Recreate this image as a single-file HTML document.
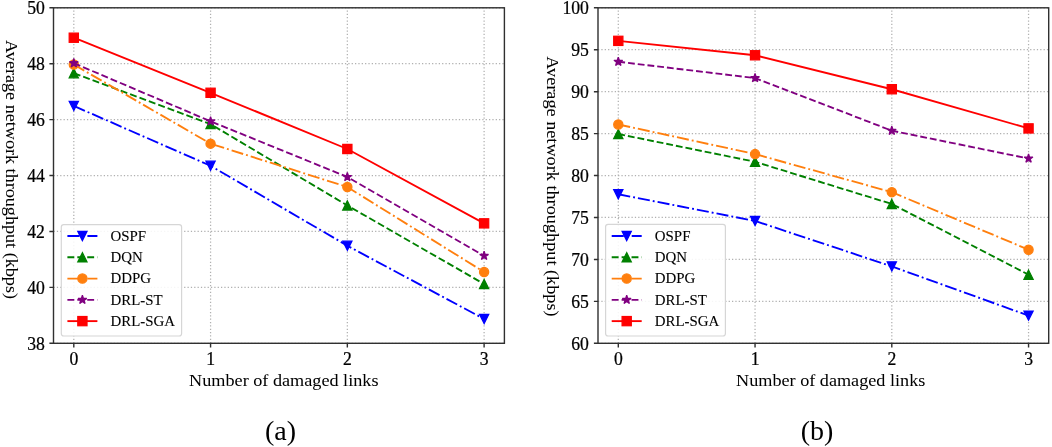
<!DOCTYPE html><html><head><meta charset="utf-8"><style>html,body{margin:0;padding:0;background:#fff;}svg{display:block;will-change:transform;}text{font-family:"Liberation Serif", serif;fill:#000;stroke:#000;stroke-width:0.25px;}</style></head><body>
<svg width="1052" height="447" viewBox="0 0 1052 447">
<rect width="1052" height="447" fill="#fff"/>
<g>
<path d="M73.8,343.3V7.8M210.57,343.3V7.8M347.34,343.3V7.8M484.11,343.3V7.8M53.5,343.3H504.4M53.5,287.38H504.4M53.5,231.47H504.4M53.5,175.55H504.4M53.5,119.63H504.4M53.5,63.72H504.4M53.5,7.8H504.4" stroke="#b0b0b0" stroke-width="1.25" stroke-dasharray="1.25 2.1" fill="none"/>
<polyline points="73.8,105.93 210.57,165.76 347.34,245.73 484.11,318.98" fill="none" stroke="#0000ff" stroke-width="1.87" stroke-dasharray="12.08 3.02 1.89 3.02"/>
<path d="M73.8,110.53L69.2,101.33L78.4,101.33Z" fill="#0000ff" stroke="#0000ff" stroke-width="1.25" stroke-linejoin="miter"/>
<path d="M210.57,170.36L205.97,161.16L215.17,161.16Z" fill="#0000ff" stroke="#0000ff" stroke-width="1.25" stroke-linejoin="miter"/>
<path d="M347.34,250.33L342.74,241.13L351.94,241.13Z" fill="#0000ff" stroke="#0000ff" stroke-width="1.25" stroke-linejoin="miter"/>
<path d="M484.11,323.58L479.51,314.38L488.71,314.38Z" fill="#0000ff" stroke="#0000ff" stroke-width="1.25" stroke-linejoin="miter"/>
<polyline points="73.8,73.22 210.57,124.11 347.34,205.47 484.11,284.03" fill="none" stroke="#008000" stroke-width="1.87" stroke-dasharray="6.99 3.02"/>
<path d="M73.8,68.62L69.2,77.82L78.4,77.82Z" fill="#008000" stroke="#008000" stroke-width="1.25" stroke-linejoin="miter"/>
<path d="M210.57,119.51L205.97,128.71L215.17,128.71Z" fill="#008000" stroke="#008000" stroke-width="1.25" stroke-linejoin="miter"/>
<path d="M347.34,200.87L342.74,210.07L351.94,210.07Z" fill="#008000" stroke="#008000" stroke-width="1.25" stroke-linejoin="miter"/>
<path d="M484.11,279.43L479.51,288.63L488.71,288.63Z" fill="#008000" stroke="#008000" stroke-width="1.25" stroke-linejoin="miter"/>
<polyline points="73.8,64.56 210.57,143.68 347.34,187.01 484.11,272.01" fill="none" stroke="#ff7f0e" stroke-width="1.87" stroke-dasharray="12.08 3.02 1.89 3.02"/>
<circle cx="73.8" cy="64.56" r="4.6" fill="#ff7f0e" stroke="#ff7f0e" stroke-width="1.25"/>
<circle cx="210.57" cy="143.68" r="4.6" fill="#ff7f0e" stroke="#ff7f0e" stroke-width="1.25"/>
<circle cx="347.34" cy="187.01" r="4.6" fill="#ff7f0e" stroke="#ff7f0e" stroke-width="1.25"/>
<circle cx="484.11" cy="272.01" r="4.6" fill="#ff7f0e" stroke="#ff7f0e" stroke-width="1.25"/>
<polyline points="73.8,63.16 210.57,121.31 347.34,176.95 484.11,255.79" fill="none" stroke="#800080" stroke-width="1.87" stroke-dasharray="6.99 3.02"/>
<polygon points="73.8,58.56 72.77,61.74 69.43,61.74 72.13,63.7 71.1,66.88 73.8,64.91 76.5,66.88 75.47,63.7 78.17,61.74 74.83,61.74" fill="#800080" stroke="#800080" stroke-width="1.25" stroke-linejoin="bevel"/>
<polygon points="210.57,116.71 209.54,119.89 206.2,119.89 208.9,121.85 207.87,125.03 210.57,123.07 213.27,125.03 212.24,121.85 214.94,119.89 211.6,119.89" fill="#800080" stroke="#800080" stroke-width="1.25" stroke-linejoin="bevel"/>
<polygon points="347.34,172.35 346.31,175.53 342.97,175.53 345.67,177.49 344.64,180.67 347.34,178.7 350.04,180.67 349.01,177.49 351.71,175.53 348.37,175.53" fill="#800080" stroke="#800080" stroke-width="1.25" stroke-linejoin="bevel"/>
<polygon points="484.11,251.19 483.08,254.37 479.74,254.37 482.44,256.33 481.41,259.51 484.11,257.55 486.81,259.51 485.78,256.33 488.48,254.37 485.14,254.37" fill="#800080" stroke="#800080" stroke-width="1.25" stroke-linejoin="bevel"/>
<polyline points="73.8,37.72 210.57,92.79 347.34,148.99 484.11,223.36" fill="none" stroke="#ff0000" stroke-width="1.87"/>
<rect x="69.2" y="33.12" width="9.2" height="9.2" fill="#ff0000" stroke="#ff0000" stroke-width="1.25" stroke-linejoin="miter"/>
<rect x="205.97" y="88.19" width="9.2" height="9.2" fill="#ff0000" stroke="#ff0000" stroke-width="1.25" stroke-linejoin="miter"/>
<rect x="342.74" y="144.39" width="9.2" height="9.2" fill="#ff0000" stroke="#ff0000" stroke-width="1.25" stroke-linejoin="miter"/>
<rect x="479.51" y="218.76" width="9.2" height="9.2" fill="#ff0000" stroke="#ff0000" stroke-width="1.25" stroke-linejoin="miter"/>
<rect x="53.5" y="7.8" width="450.9" height="335.5" fill="none" stroke="#303030" stroke-width="1.4"/>
<path d="M73.8,343.3v4.1M210.57,343.3v4.1M347.34,343.3v4.1M484.11,343.3v4.1M53.5,343.3h-4.1M53.5,287.38h-4.1M53.5,231.47h-4.1M53.5,175.55h-4.1M53.5,119.63h-4.1M53.5,63.72h-4.1M53.5,7.8h-4.1" stroke="#303030" stroke-width="1.4" fill="none"/>
<text transform="translate(73.8,364.5) scale(0.93,1)" font-size="19" text-anchor="middle">0</text>
<text transform="translate(210.57,364.5) scale(0.93,1)" font-size="19" text-anchor="middle">1</text>
<text transform="translate(347.34,364.5) scale(0.93,1)" font-size="19" text-anchor="middle">2</text>
<text transform="translate(484.11,364.5) scale(0.93,1)" font-size="19" text-anchor="middle">3</text>
<text transform="translate(44.8,349.9) scale(0.93,1)" font-size="19" text-anchor="end">38</text>
<text transform="translate(44.8,293.98) scale(0.93,1)" font-size="19" text-anchor="end">40</text>
<text transform="translate(44.8,238.07) scale(0.93,1)" font-size="19" text-anchor="end">42</text>
<text transform="translate(44.8,182.15) scale(0.93,1)" font-size="19" text-anchor="end">44</text>
<text transform="translate(44.8,126.23) scale(0.93,1)" font-size="19" text-anchor="end">46</text>
<text transform="translate(44.8,70.32) scale(0.93,1)" font-size="19" text-anchor="end">48</text>
<text transform="translate(44.8,14.4) scale(0.93,1)" font-size="19" text-anchor="end">50</text>
<text x="189.1" y="386.2" font-size="17" textLength="189.4" lengthAdjust="spacingAndGlyphs" style="stroke-width:0.02px">Number of damaged links</text>
<text transform="translate(5.6,40.1) rotate(90)" x="0" y="0" font-size="16.5" textLength="258.9" lengthAdjust="spacingAndGlyphs" style="stroke-width:0.05px">Average network throughput (kbps)</text>
<text x="280.6" y="440" font-size="28" text-anchor="middle" style="stroke-width:0px;stroke:none">(a)</text>
<rect x="61.3" y="224.6" width="120.3" height="111.4" rx="2.5" fill="#fff" fill-opacity="0.88" stroke="#d6d6d6" stroke-width="1.2"/>
<path d="M67.4,236H97.4" stroke="#0000ff" stroke-width="1.87" stroke-dasharray="12.08 3.02 1.89 3.02" fill="none"/>
<path d="M82.4,240.6L77.8,231.4L87,231.4Z" fill="#0000ff" stroke="#0000ff" stroke-width="1.25" stroke-linejoin="miter"/>
<text transform="translate(110.5,240.9) scale(0.975,1)" font-size="15.3" style="stroke-width:0.1px">OSPF</text>
<path d="M67.4,257.28H97.4" stroke="#008000" stroke-width="1.87" stroke-dasharray="6.92 2.99" fill="none"/>
<path d="M82.4,252.68L77.8,261.88L87,261.88Z" fill="#008000" stroke="#008000" stroke-width="1.25" stroke-linejoin="miter"/>
<text transform="translate(110.5,262.18) scale(0.975,1)" font-size="15.3" style="stroke-width:0.1px">DQN</text>
<path d="M67.4,278.56H97.4" stroke="#ff7f0e" stroke-width="1.87" stroke-dasharray="12.08 3.02 1.89 3.02" fill="none"/>
<circle cx="82.4" cy="278.56" r="4.6" fill="#ff7f0e" stroke="#ff7f0e" stroke-width="1.25"/>
<text transform="translate(110.5,283.46) scale(0.975,1)" font-size="15.3" style="stroke-width:0.1px">DDPG</text>
<path d="M67.4,299.84H97.4" stroke="#800080" stroke-width="1.87" stroke-dasharray="6.92 2.99" fill="none"/>
<polygon points="82.4,295.24 81.37,298.42 78.03,298.42 80.73,300.38 79.7,303.56 82.4,301.6 85.1,303.56 84.07,300.38 86.77,298.42 83.43,298.42" fill="#800080" stroke="#800080" stroke-width="1.25" stroke-linejoin="bevel"/>
<text transform="translate(110.5,304.74) scale(0.975,1)" font-size="15.3" style="stroke-width:0.1px">DRL-ST</text>
<path d="M67.4,321.12H97.4" stroke="#ff0000" stroke-width="1.87" fill="none"/>
<rect x="77.8" y="316.52" width="9.2" height="9.2" fill="#ff0000" stroke="#ff0000" stroke-width="1.25" stroke-linejoin="miter"/>
<text transform="translate(110.5,326.02) scale(0.975,1)" font-size="15.3" style="stroke-width:0.1px">DRL-SGA</text>
<path d="M618.3,343.3V7.8M755.05,343.3V7.8M891.8,343.3V7.8M1028.55,343.3V7.8M598,343.3H1048.7M598,301.36H1048.7M598,259.43H1048.7M598,217.49H1048.7M598,175.55H1048.7M598,133.61H1048.7M598,91.68H1048.7M598,49.74H1048.7M598,7.8H1048.7" stroke="#b0b0b0" stroke-width="1.25" stroke-dasharray="1.25 2.1" fill="none"/>
<polyline points="618.3,194.25 755.05,220.93 891.8,266.39 1028.55,315.62" fill="none" stroke="#0000ff" stroke-width="1.87" stroke-dasharray="12.08 3.02 1.89 3.02"/>
<path d="M618.3,198.85L613.7,189.65L622.9,189.65Z" fill="#0000ff" stroke="#0000ff" stroke-width="1.25" stroke-linejoin="miter"/>
<path d="M755.05,225.53L750.45,216.33L759.65,216.33Z" fill="#0000ff" stroke="#0000ff" stroke-width="1.25" stroke-linejoin="miter"/>
<path d="M891.8,270.99L887.2,261.79L896.4,261.79Z" fill="#0000ff" stroke="#0000ff" stroke-width="1.25" stroke-linejoin="miter"/>
<path d="M1028.55,320.22L1023.95,311.02L1033.15,311.02Z" fill="#0000ff" stroke="#0000ff" stroke-width="1.25" stroke-linejoin="miter"/>
<polyline points="618.3,134.03 755.05,161.79 891.8,203.98 1028.55,274.69" fill="none" stroke="#008000" stroke-width="1.87" stroke-dasharray="6.83 2.96"/>
<path d="M618.3,129.43L613.7,138.63L622.9,138.63Z" fill="#008000" stroke="#008000" stroke-width="1.25" stroke-linejoin="miter"/>
<path d="M755.05,157.19L750.45,166.39L759.65,166.39Z" fill="#008000" stroke="#008000" stroke-width="1.25" stroke-linejoin="miter"/>
<path d="M891.8,199.38L887.2,208.58L896.4,208.58Z" fill="#008000" stroke="#008000" stroke-width="1.25" stroke-linejoin="miter"/>
<path d="M1028.55,270.09L1023.95,279.29L1033.15,279.29Z" fill="#008000" stroke="#008000" stroke-width="1.25" stroke-linejoin="miter"/>
<polyline points="618.3,124.47 755.05,154.08 891.8,192.16 1028.55,249.7" fill="none" stroke="#ff7f0e" stroke-width="1.87" stroke-dasharray="12.08 3.02 1.89 3.02"/>
<circle cx="618.3" cy="124.47" r="4.6" fill="#ff7f0e" stroke="#ff7f0e" stroke-width="1.25"/>
<circle cx="755.05" cy="154.08" r="4.6" fill="#ff7f0e" stroke="#ff7f0e" stroke-width="1.25"/>
<circle cx="891.8" cy="192.16" r="4.6" fill="#ff7f0e" stroke="#ff7f0e" stroke-width="1.25"/>
<circle cx="1028.55" cy="249.7" r="4.6" fill="#ff7f0e" stroke="#ff7f0e" stroke-width="1.25"/>
<polyline points="618.3,61.73 755.05,78.09 891.8,130.68 1028.55,158.52" fill="none" stroke="#800080" stroke-width="1.87" stroke-dasharray="6.83 2.96"/>
<polygon points="618.3,57.13 617.27,60.31 613.93,60.31 616.63,62.27 615.6,65.45 618.3,63.49 621,65.45 619.97,62.27 622.67,60.31 619.33,60.31" fill="#800080" stroke="#800080" stroke-width="1.25" stroke-linejoin="bevel"/>
<polygon points="755.05,73.49 754.02,76.67 750.68,76.67 753.38,78.63 752.35,81.81 755.05,79.84 757.75,81.81 756.72,78.63 759.42,76.67 756.08,76.67" fill="#800080" stroke="#800080" stroke-width="1.25" stroke-linejoin="bevel"/>
<polygon points="891.8,126.08 890.77,129.26 887.43,129.26 890.13,131.22 889.1,134.4 891.8,132.43 894.5,134.4 893.47,131.22 896.17,129.26 892.83,129.26" fill="#800080" stroke="#800080" stroke-width="1.25" stroke-linejoin="bevel"/>
<polygon points="1028.55,153.92 1027.52,157.1 1024.18,157.1 1026.88,159.07 1025.85,162.24 1028.55,160.28 1031.25,162.24 1030.22,159.07 1032.92,157.1 1029.58,157.1" fill="#800080" stroke="#800080" stroke-width="1.25" stroke-linejoin="bevel"/>
<polyline points="618.3,40.85 755.05,55.27 891.8,89.24 1028.55,128.41" fill="none" stroke="#ff0000" stroke-width="1.87"/>
<rect x="613.7" y="36.25" width="9.2" height="9.2" fill="#ff0000" stroke="#ff0000" stroke-width="1.25" stroke-linejoin="miter"/>
<rect x="750.45" y="50.67" width="9.2" height="9.2" fill="#ff0000" stroke="#ff0000" stroke-width="1.25" stroke-linejoin="miter"/>
<rect x="887.2" y="84.64" width="9.2" height="9.2" fill="#ff0000" stroke="#ff0000" stroke-width="1.25" stroke-linejoin="miter"/>
<rect x="1023.95" y="123.81" width="9.2" height="9.2" fill="#ff0000" stroke="#ff0000" stroke-width="1.25" stroke-linejoin="miter"/>
<rect x="598" y="7.8" width="450.7" height="335.5" fill="none" stroke="#303030" stroke-width="1.4"/>
<path d="M618.3,343.3v4.1M755.05,343.3v4.1M891.8,343.3v4.1M1028.55,343.3v4.1M598,343.3h-4.1M598,301.36h-4.1M598,259.43h-4.1M598,217.49h-4.1M598,175.55h-4.1M598,133.61h-4.1M598,91.68h-4.1M598,49.74h-4.1M598,7.8h-4.1" stroke="#303030" stroke-width="1.4" fill="none"/>
<text transform="translate(618.3,364.5) scale(0.93,1)" font-size="19" text-anchor="middle">0</text>
<text transform="translate(755.05,364.5) scale(0.93,1)" font-size="19" text-anchor="middle">1</text>
<text transform="translate(891.8,364.5) scale(0.93,1)" font-size="19" text-anchor="middle">2</text>
<text transform="translate(1028.55,364.5) scale(0.93,1)" font-size="19" text-anchor="middle">3</text>
<text transform="translate(588.9,349.9) scale(0.93,1)" font-size="19" text-anchor="end">60</text>
<text transform="translate(588.9,307.96) scale(0.93,1)" font-size="19" text-anchor="end">65</text>
<text transform="translate(588.9,266.03) scale(0.93,1)" font-size="19" text-anchor="end">70</text>
<text transform="translate(588.9,224.09) scale(0.93,1)" font-size="19" text-anchor="end">75</text>
<text transform="translate(588.9,182.15) scale(0.93,1)" font-size="19" text-anchor="end">80</text>
<text transform="translate(588.9,140.21) scale(0.93,1)" font-size="19" text-anchor="end">85</text>
<text transform="translate(588.9,98.28) scale(0.93,1)" font-size="19" text-anchor="end">90</text>
<text transform="translate(588.9,56.34) scale(0.93,1)" font-size="19" text-anchor="end">95</text>
<text transform="translate(588.9,14.4) scale(0.93,1)" font-size="19" text-anchor="end">100</text>
<text x="736.1" y="385.5" font-size="17" textLength="189.2" lengthAdjust="spacingAndGlyphs" style="stroke-width:0.02px">Number of damaged links</text>
<text transform="translate(546.9,56.2) rotate(90)" x="0" y="0" font-size="16.5" textLength="260.4" lengthAdjust="spacingAndGlyphs" style="stroke-width:0.05px">Average network throughput (kbps)</text>
<text x="817" y="440" font-size="28" text-anchor="middle" style="stroke-width:0px;stroke:none">(b)</text>
<rect x="605.6" y="224.3" width="119.8" height="111.7" rx="2.5" fill="#fff" fill-opacity="0.88" stroke="#d6d6d6" stroke-width="1.2"/>
<path d="M611.7,236H641.7" stroke="#0000ff" stroke-width="1.87" stroke-dasharray="12.08 3.02 1.89 3.02" fill="none"/>
<path d="M626.7,240.6L622.1,231.4L631.3,231.4Z" fill="#0000ff" stroke="#0000ff" stroke-width="1.25" stroke-linejoin="miter"/>
<text transform="translate(654.8,240.9) scale(0.975,1)" font-size="15.3" style="stroke-width:0.1px">OSPF</text>
<path d="M611.7,257.28H641.7" stroke="#008000" stroke-width="1.87" stroke-dasharray="6.92 2.99" fill="none"/>
<path d="M626.7,252.68L622.1,261.88L631.3,261.88Z" fill="#008000" stroke="#008000" stroke-width="1.25" stroke-linejoin="miter"/>
<text transform="translate(654.8,262.18) scale(0.975,1)" font-size="15.3" style="stroke-width:0.1px">DQN</text>
<path d="M611.7,278.56H641.7" stroke="#ff7f0e" stroke-width="1.87" stroke-dasharray="12.08 3.02 1.89 3.02" fill="none"/>
<circle cx="626.7" cy="278.56" r="4.6" fill="#ff7f0e" stroke="#ff7f0e" stroke-width="1.25"/>
<text transform="translate(654.8,283.46) scale(0.975,1)" font-size="15.3" style="stroke-width:0.1px">DDPG</text>
<path d="M611.7,299.84H641.7" stroke="#800080" stroke-width="1.87" stroke-dasharray="6.92 2.99" fill="none"/>
<polygon points="626.7,295.24 625.67,298.42 622.33,298.42 625.03,300.38 624,303.56 626.7,301.6 629.4,303.56 628.37,300.38 631.07,298.42 627.73,298.42" fill="#800080" stroke="#800080" stroke-width="1.25" stroke-linejoin="bevel"/>
<text transform="translate(654.8,304.74) scale(0.975,1)" font-size="15.3" style="stroke-width:0.1px">DRL-ST</text>
<path d="M611.7,321.12H641.7" stroke="#ff0000" stroke-width="1.87" fill="none"/>
<rect x="622.1" y="316.52" width="9.2" height="9.2" fill="#ff0000" stroke="#ff0000" stroke-width="1.25" stroke-linejoin="miter"/>
<text transform="translate(654.8,326.02) scale(0.975,1)" font-size="15.3" style="stroke-width:0.1px">DRL-SGA</text>
</g>
</svg></body></html>
